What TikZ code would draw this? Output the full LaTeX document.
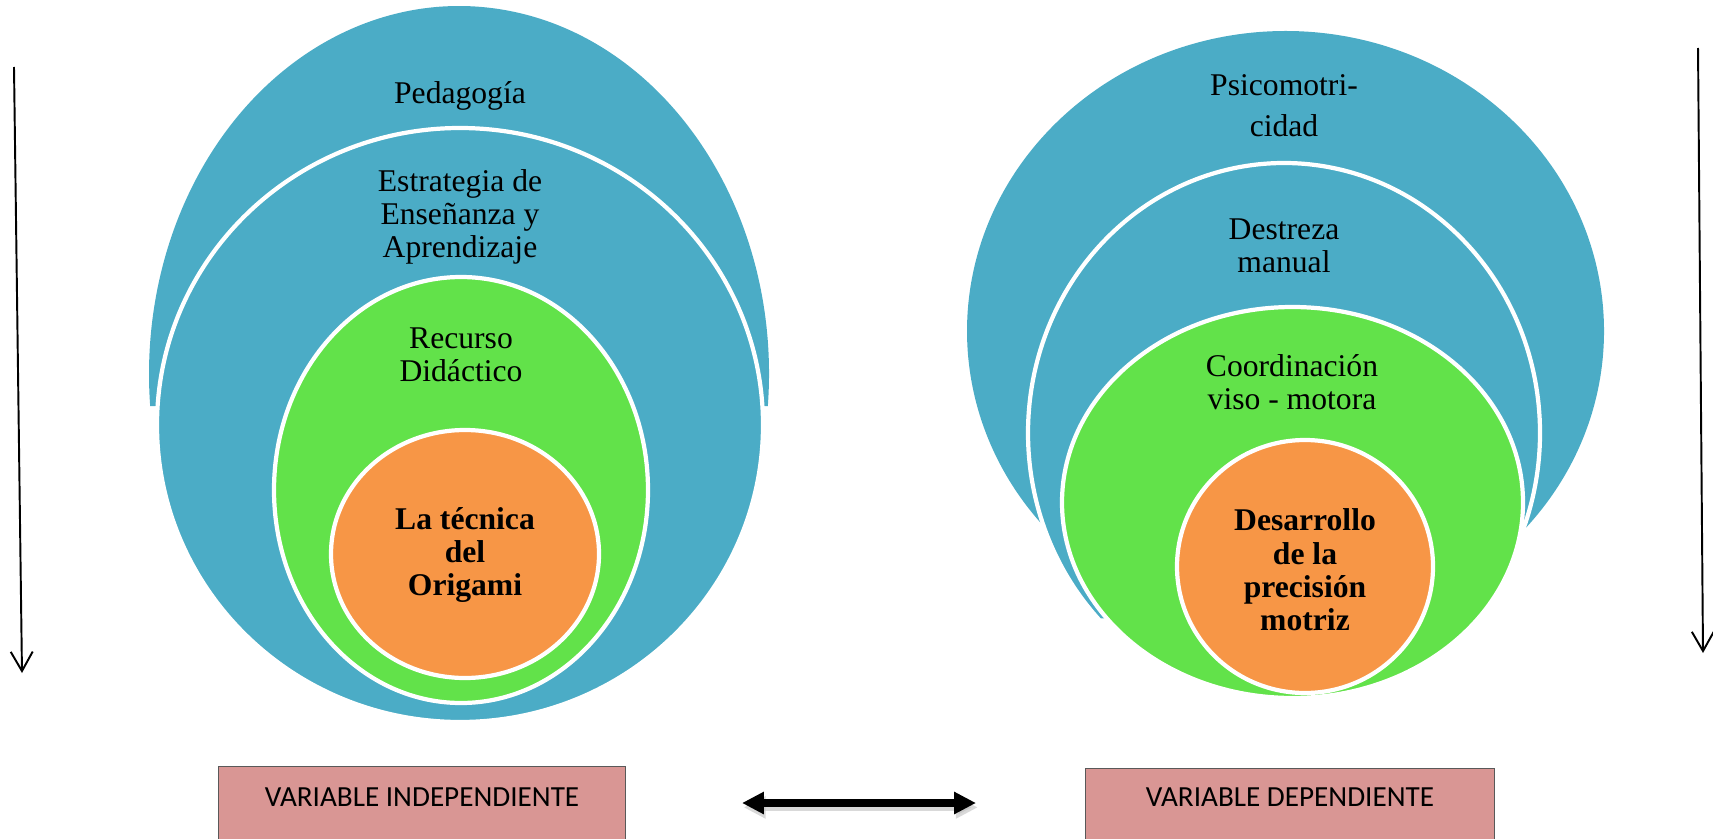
\documentclass[tikz,border=0pt]{standalone}
\usepackage{fontspec}
\setmainfont{Liberation Serif}
\newfontfamily\calibri{Carlito}
\usetikzlibrary{arrows.meta}

\definecolor{azul}{HTML}{4BACC6}
\definecolor{verde}{HTML}{62E24A}
\definecolor{naranja}{HTML}{F79646}
\definecolor{rosa}{HTML}{D99694}

\begin{document}
\begin{tikzpicture}[x=0.02cm, y=-0.02cm,
	anillo/.style={line width=2.4pt, draw=white},
	texto/.style={align=center, inner sep=0pt, font=\fontsize{18}{19}\selectfont},
	negrita/.style={texto, font=\fontsize{18}{19}\selectfont\bfseries},
	caja/.style={inner sep=0pt, font=\calibri\fontsize{16.6}{19}\selectfont},
	varbox/.style={draw=black!65, fill=rosa, line width=0.6pt, minimum height=3cm, anchor=north west},
	fleche/.style={line width=1.1pt, -{Straight Barb[length=11pt, width=12.5pt]}},
	doble/.style={line width=4pt, {Triangle[length=12.5pt, width=12pt]}-{Triangle[length=12.5pt, width=12pt]}}]

	\useasboundingbox (0,0) rectangle (1713,838);

	% cible de gauche
	\fill[azul] (459,374) ++(5:310 and 368) arc[start angle=5, end angle=-185, x radius=310, y radius=368] -- cycle;
	\path[fill=azul, anillo] (460,425) ellipse [x radius=303, y radius=297];
	\path[fill=verde, anillo] (461,490) ellipse [x radius=187, y radius=213];
	\path[fill=naranja, anillo] (465,554) ellipse [x radius=134, y radius=124];

	\node[texto] (ped) at (460,96) {Pedagogía};
	\node[texto] (est) at (460,217) {Estrategia de\\Enseñanza y\\Aprendizaje};
	\node[texto] (rec) at (461,355) {Recurso\\Didáctico};
	\node[negrita] (tec) at (465,555) {La técnica\\del\\Origami};

	% cible de droite
	\fill[azul] (1285.5,331) ++(41:318.5 and 300) arc[start angle=41, end angle=-221, x radius=318.5, y radius=300] -- cycle;
	\path[fill=azul, anillo] (1284,433) ++(44:256 and 270) arc[start angle=44, end angle=-224, x radius=256, y radius=270] -- cycle;
	\path[fill=verde, anillo] (1292.5,502.5) ellipse [x radius=230.5, y radius=195.5];
	\path[fill=naranja, anillo] (1305,566.5) ellipse [x radius=128, y radius=126.5];

	\node[texto, font=\fontsize{18}{23.3}\selectfont] (psi) at (1284,106) {Psicomotri-\\cidad};
	\node[texto] (des) at (1284,246) {Destreza\\manual};
	\node[texto] (coo) at (1292,382) {Coordinación\\viso - motora};
	\node[negrita] (dpm) at (1305,570) {Desarrollo\\de la\\precisión\\motriz};

	% fleches verticales
	\coordinate (g1) at (14,67);
	\coordinate (g2) at (22,673);
	\draw[fleche] (g1) -- (g2);
	\coordinate (d1) at (1698,48);
	\coordinate (d2) at (1703,653);
	\draw[fleche] (d1) -- (d2);

	% variables
	\node[varbox, minimum width=8.14cm] (vibox) at (218,766) {};
	\node[caja] (vi) at (422,797) {VARIABLE INDEPENDIENTE};
	\node[varbox, minimum width=8.18cm] (vdbox) at (1085,768) {};
	\node[caja] (vd) at (1290,797) {VARIABLE DEPENDIENTE};

	\coordinate (a1) at (742,803);
	\coordinate (a2) at (976,803);
	\draw[doble, black!25, opacity=0.6, transform canvas={xshift=1pt, yshift=-2.5pt}] (a1) -- (a2); % ombre
	\draw[doble] (a1) -- (a2);

\end{tikzpicture}
\end{document}
